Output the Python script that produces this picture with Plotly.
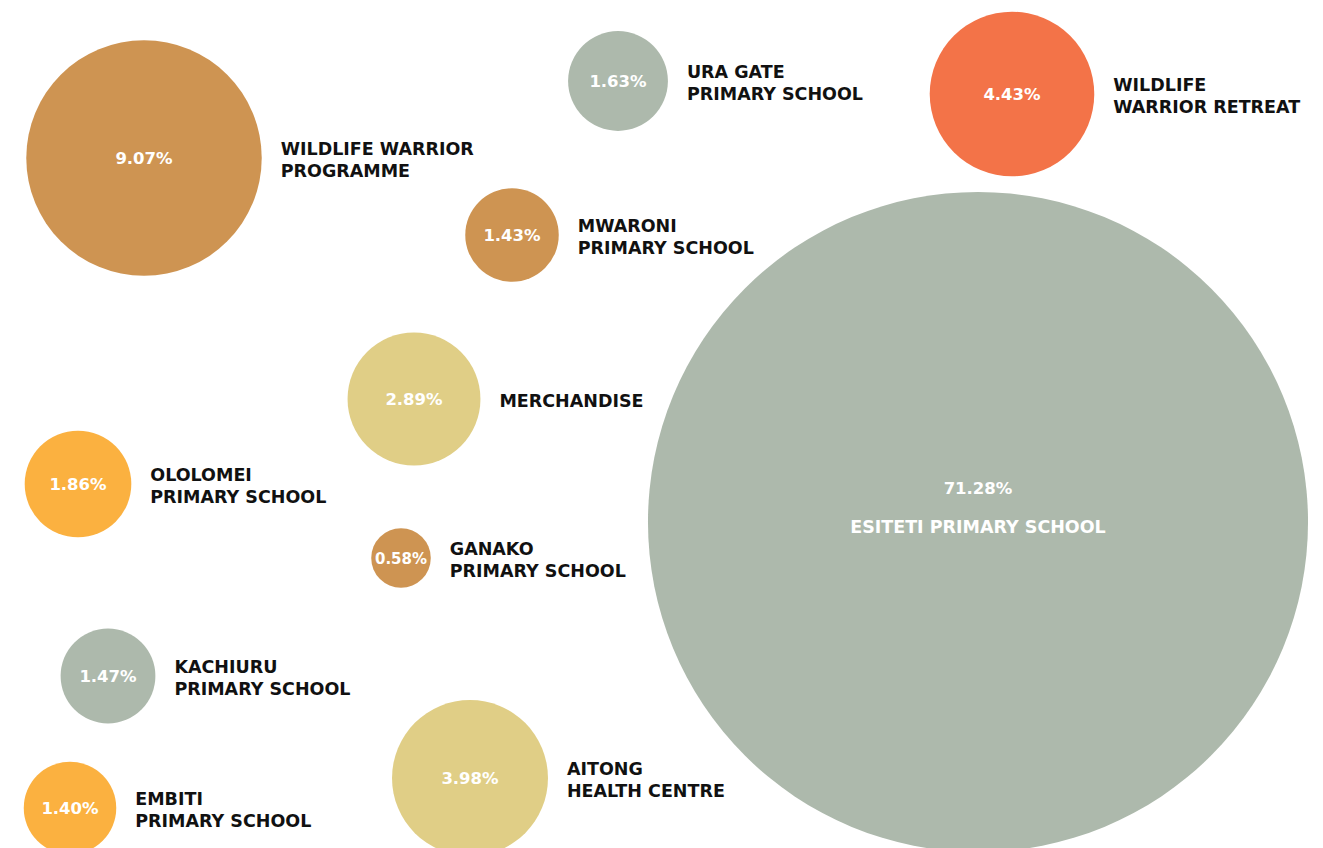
import numpy as np
import plotly.graph_objects as go

# ---- data ----
names = [
    "WILDLIFE WARRIOR<br>PROGRAMME",
    "URA GATE<br>PRIMARY SCHOOL",
    "WILDLIFE<br>WARRIOR RETREAT",
    "MWARONI<br>PRIMARY SCHOOL",
    "MERCHANDISE",
    "OLOLOMEI<br>PRIMARY SCHOOL",
    "GANAKO<br>PRIMARY SCHOOL",
    "KACHIURU<br>PRIMARY SCHOOL",
    "EMBITI<br>PRIMARY SCHOOL",
    "AITONG<br>HEALTH CENTRE",
    "ESITETI PRIMARY SCHOOL",
]
shares = [9.07, 1.63, 4.43, 1.43, 2.89, 1.86, 0.58, 1.47, 1.40, 3.98, 71.28]

# ---- layout (pixel positions of bubble centres on the page) ----
cx = [144, 618, 1012, 512, 414, 78, 401, 108, 70, 470, 978]
cy = [158, 81, 94, 235, 399, 484, 558, 676, 808, 778, 522]
colors = ["#CE9452", "#ADB9AC", "#F37348", "#CE9452", "#E0CE86", "#FBB140",
          "#CE9452", "#ADB9AC", "#FBB140", "#E0CE86", "#ADB9AC"]

W, H = 1323, 848
OFF = 8  # default page body margin
k = 39.09  # px radius per sqrt(percent)
sizeref = 1.0 / (2 * k * k)
radii = [k * np.sqrt(v) for v in shares]

FONT = "DejaVu Sans"
fig = go.Figure()

fig.add_trace(go.Scatter(
    x=cx, y=cy, mode="markers",
    marker=dict(size=shares, sizemode="area", sizeref=sizeref, color=colors,
                line=dict(width=0), opacity=1),
    hoverinfo="skip", showlegend=False,
))

# percentage labels
pct_y = [y + 2 if n != "ESITETI PRIMARY SCHOOL" else y - 32 for y, n in zip(cy, names)]
pct_size = [16.5 if v > 0.6 else 15 for v in shares]
fig.add_trace(go.Scatter(
    x=cx, y=pct_y, mode="text",
    text=[f"{v:.2f}%" for v in shares],
    textposition="middle center",
    textfont=dict(family=FONT, size=pct_size, color="white", weight="bold"),
    hoverinfo="skip", showlegend=False,
))

# name labels
lx, ly, lpos, lcol = [], [], [], []
for n, x, y, r in zip(names, cx, cy, radii):
    if n == "ESITETI PRIMARY SCHOOL":
        lx.append(x); ly.append(y + 7); lpos.append("middle center"); lcol.append("white")
    else:
        lx.append(x + r + 19); ly.append(y + 3.5); lpos.append("middle right"); lcol.append("#111111")
fig.add_trace(go.Scatter(
    x=lx, y=ly, mode="text", text=names, textposition=lpos,
    textfont=dict(family=FONT, size=17.5, color=lcol, weight="bold"),
    hoverinfo="skip", showlegend=False,
))

fig.update_layout(
    width=W, height=H, margin=dict(l=0, r=0, t=0, b=0),
    paper_bgcolor="white", plot_bgcolor="white",
    xaxis=dict(range=[OFF, W + OFF], visible=False, fixedrange=True),
    yaxis=dict(range=[H + OFF, OFF], visible=False, fixedrange=True),
)
fig.write_html("out.html")
